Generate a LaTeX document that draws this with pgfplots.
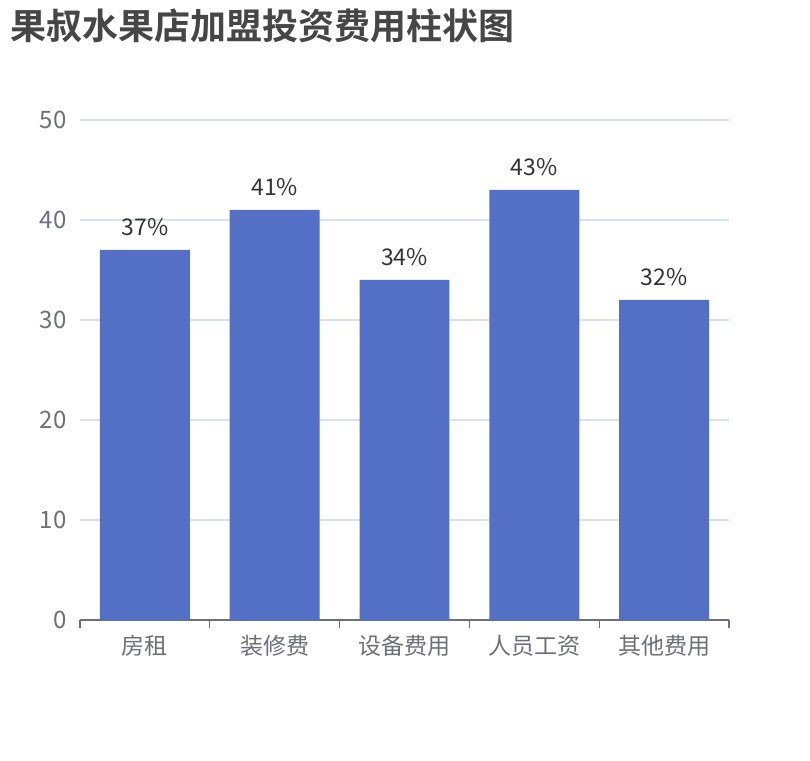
\documentclass[border=0pt]{standalone}
\usepackage{pgfplots}
\pgfplotsset{compat=1.18}
\usepackage{fontspec}
\setmainfont{Noto Sans CJK SC}
\newfontfamily\titlefont{Noto Sans CJK SC Bold}
\definecolor{bar}{HTML}{5470C6}
\definecolor{gridc}{HTML}{DCE1EE}
\definecolor{axisc}{HTML}{6E7079}
\definecolor{titlec}{HTML}{464646}
\definecolor{labc}{HTML}{333333}
\begin{document}
\begin{tikzpicture}[x=1pt,y=1pt]
\fill[white] (0,0) rectangle (810,760);
\node[anchor=west, text=titlec, font=\titlefont\fontsize{36}{40}\selectfont, inner sep=0pt] at (10,734) {果叔水果店加盟投资费用柱状图};
\begin{axis}[
  at={(80pt,140pt)}, anchor=south west,
  scale only axis, width=649pt, height=500pt,
  xmin=-0.5, xmax=4.5, ymin=0, ymax=50,
  ytick={0,10,...,50},
  xtick={0,1,2,3,4},
  xticklabels={房租,装修费,设备费用,人员工资,其他费用},
  minor xtick={-0.5,0.5,...,4.5},
  major tick length=0pt,
  minor tick length=8pt,
  tick align=outside,
  xtick style={draw=axisc, line width=1.3pt},
  ytick style={draw=none},
  axis x line*=bottom,
  axis y line*=left,
  y axis line style={draw=none},
  x axis line style={draw=axisc, line width=1.3pt, -},
  ymajorgrids, grid style={draw=gridc, line width=1.1pt},
  xmajorgrids=false, xminorgrids=false,
  ticklabel style={text=axisc, font=\fontsize{23}{26}\selectfont},
  yticklabel style={xshift=-10pt, font=\fontsize{24}{26}\selectfont},
  xticklabel style={yshift=-12pt},
  /pgf/number format/assume math mode=true,
  point meta=explicit symbolic,
  nodes near coords={\pgfplotspointmeta\%},
  nodes near coords style={text=labc, font=\fontsize{23}{26}\selectfont, yshift=11pt},
  clip=false,
]
\addplot[ybar, bar width=0.693, fill=bar, draw=none] coordinates {(0,37) [37] (1,41) [41] (2,34) [34] (3,43) [43] (4,32) [32]};
\end{axis}
\end{tikzpicture}
\end{document}
